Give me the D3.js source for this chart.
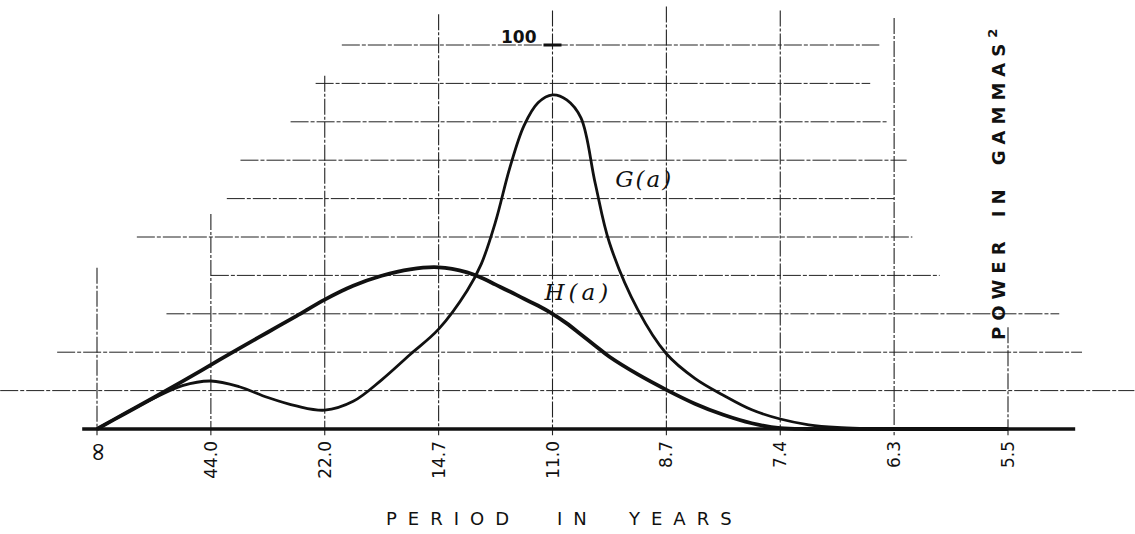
<!DOCTYPE html>
<html>
<head>
<meta charset="utf-8">
<script src="https://cdn.jsdelivr.net/npm/d3@7"></script>
<style>
  body { margin: 0; background: #fff; }
  svg { display: block; background: #fff; }
</style>
</head>
<body>
<svg id="chart" width="1135" height="534" viewBox="0 0 1135 534"></svg>
<script>
// x axis: harmonics of the 44-year period, equally spaced in frequency
const periodLabels = ['∞', '44.0', '22.0', '14.7', '11.0', '8.7', '7.4', '6.3', '5.5'];
const harmonic = [0, 1, 2, 3, 4, 5, 6, 7, 8];
const powerGrid = [10, 20, 30, 40, 50, 60, 70, 80, 90, 100];

// curve samples (position in harmonic units, power in gammas^2)
const samplePos = [0, 0.25, 0.5, 0.75, 1, 1.25, 1.5, 1.75, 2, 2.25, 2.5, 2.75, 3, 3.25, 3.375, 3.5, 3.625, 3.75, 3.875, 4,
  4.125, 4.25, 4.375, 4.5, 4.75, 5, 5.25, 5.5, 5.75, 6, 6.25, 6.5, 7, 7.5, 8];
const gPower = [0, 4.1, 8.0, 11.3, 12.5, 11.0, 8.2, 6.0, 4.9, 7.2, 12.8, 19.4, 26, 36, 43, 54, 68, 79, 85, 87,
  85.7, 81, 64, 48.5, 31, 19.6, 13.2, 8.8, 5.0, 2.6, 1.1, 0.4, 0, 0, 0];
const hPower = [0, 4.1, 8.2, 12.4, 16.7, 21.0, 25.2, 29.4, 33.7, 37.3, 39.9, 41.6, 42.1, 40.8, 39.4, 37.6, 35.8, 33.9, 32.1, 30,
  27.5, 24.6, 21.7, 18.8, 14.2, 10.2, 6.6, 3.7, 1.5, 0.2, 0, 0, 0, 0, 0];

// the hand-ruled grid does not span the whole plot: extents in axis units
const hGridSpan = [[-0.85, 9.11], [-0.35, 8.65], [0.61, 8.45], [1.0, 7.4], [0.35, 7.16], [1.14, 7.0], [1.26, 7.11], [1.7, 6.94], [1.92, 6.79], [2.15, 6.87]];
const vGridTop = [42, 56, 92, 108, 109, 110, 109, 107, 26.5];

const width = 1135;
const height = 534;
const margin = { top: 45, right: 127, bottom: 105, left: 97 };
const innerWidth = width - margin.left - margin.right;
const innerHeight = height - margin.top - margin.bottom;
const ink = '#111';
const font = "'DejaVu Sans', sans-serif";

const svg = d3.select('#chart');

const g = svg.append('g')
  .attr('transform', `translate(${margin.left},${margin.top})`);

const xScale = d3.scaleLinear().domain([0, 8]).range([0, innerWidth]);
const yScale = d3.scaleLinear().domain([0, 100]).range([innerHeight, 0]);

// horizontal grid
g.append('g')
  .selectAll('line')
  .data(powerGrid)
  .enter()
  .append('line')
  .attr('x1', (d, i) => xScale(hGridSpan[i][0]))
  .attr('x2', (d, i) => xScale(hGridSpan[i][1]))
  .attr('y1', d => yScale(d))
  .attr('y2', d => yScale(d))
  .attr('stroke', '#222')
  .attr('stroke-width', 1)
  .attr('stroke-dasharray', '18,2,4,2');

// vertical grid, running a little below the base line as ticks
g.append('g')
  .selectAll('line')
  .data(harmonic)
  .enter()
  .append('line')
  .attr('x1', d => xScale(d))
  .attr('x2', d => xScale(d))
  .attr('y1', (d, i) => yScale(vGridTop[i]))
  .attr('y2', yScale(-1.6))
  .attr('stroke', '#222')
  .attr('stroke-width', 1.1)
  .attr('stroke-dasharray', '16,2,3,2');

// base line
g.append('line')
  .attr('x1', xScale(-0.13))
  .attr('x2', xScale(8.59))
  .attr('y1', yScale(0))
  .attr('y2', yScale(0))
  .attr('stroke', ink)
  .attr('stroke-width', 3.6);

// 100 mark
g.append('line')
  .attr('x1', xScale(4) - 9)
  .attr('x2', xScale(4) + 9)
  .attr('y1', yScale(100))
  .attr('y2', yScale(100))
  .attr('stroke', ink)
  .attr('stroke-width', 3);

g.append('text')
  .attr('x', xScale(4) - 16)
  .attr('y', yScale(100) - 2)
  .attr('text-anchor', 'end')
  .attr('font-family', font)
  .attr('font-size', '17px')
  .attr('font-weight', 'bold')
  .attr('fill', ink)
  .text('100');

// curves
const line = (vals) => d3.line()
  .x((d, i) => xScale(samplePos[i]))
  .y(d => yScale(d))
  .curve(d3.curveCatmullRom.alpha(0.5))(vals);

g.append('path')
  .attr('d', line(hPower))
  .attr('fill', 'none')
  .attr('stroke', ink)
  .attr('stroke-width', 3.8)
  .attr('stroke-linejoin', 'round');

g.append('path')
  .attr('d', line(gPower))
  .attr('fill', 'none')
  .attr('stroke', ink)
  .attr('stroke-width', 2.8)
  .attr('stroke-linejoin', 'round');

// curve labels
g.append('text')
  .attr('x', xScale(4.55))
  .attr('y', yScale(63))
  .attr('font-family', "'DejaVu Serif', serif")
  .attr('font-style', 'italic')
  .attr('font-size', '23px')
  .attr('letter-spacing', '2px')
  .attr('fill', ink)
  .text('G(a)');

g.append('text')
  .attr('x', xScale(3.93))
  .attr('y', yScale(33.5))
  .attr('font-family', "'DejaVu Serif', serif")
  .attr('font-style', 'italic')
  .attr('font-size', '23px')
  .attr('letter-spacing', '4px')
  .attr('fill', ink)
  .text('H(a)');

// period tick labels, turned on end
const labelTop = innerHeight + 12;
g.append('g')
  .selectAll('text')
  .data(periodLabels)
  .enter()
  .append('text')
  .attr('x', (d, i) => xScale(harmonic[i]))
  .attr('y', labelTop)
  .attr('transform', (d, i) => `rotate(-90,${xScale(harmonic[i])},${labelTop})`)
  .attr('dy', '0.36em')
  .attr('text-anchor', 'end')
  .attr('font-family', font)
  .attr('font-size', d => d === '∞' ? '26px' : '17px')
  .attr('fill', ink)
  .text(d => d);

// axis titles
const xTitle = [['PERIOD', 289], ['IN', 460], ['YEARS', 532]];
g.append('g')
  .selectAll('text')
  .data(xTitle)
  .enter()
  .append('text')
  .attr('x', d => d[1])
  .attr('y', innerHeight + 96)
  .attr('font-family', font)
  .attr('font-size', '18px')
  .attr('letter-spacing', '11px')
  .attr('fill', ink)
  .text(d => d[0]);

const yTitle = g.append('text')
  .attr('x', innerWidth - 3)
  .attr('y', 295)
  .attr('transform', `rotate(-90,${innerWidth - 3},295)`)
  .attr('font-family', font)
  .attr('font-size', '18px')
  .attr('font-weight', 'bold')
  .attr('letter-spacing', '6px')
  .attr('word-spacing', '6px')
  .attr('fill', ink);

yTitle.append('tspan').text('POWER IN GAMMAS');
yTitle.append('tspan')
  .attr('dy', '-0.6em')
  .attr('font-size', '13px')
  .text('2');
</script>
</body>
</html>
